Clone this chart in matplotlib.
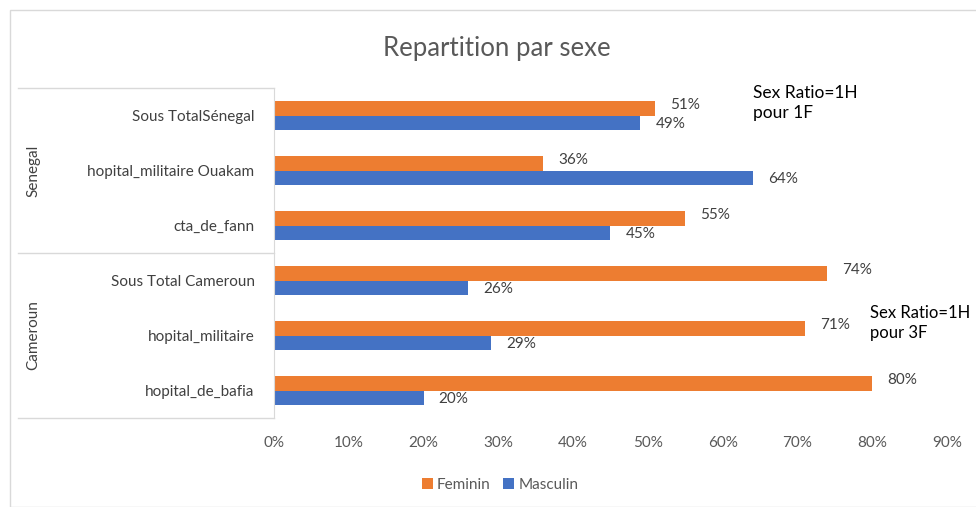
import matplotlib
matplotlib.use("Agg")
import matplotlib.pyplot as plt
import numpy as np
from matplotlib.lines import Line2D
from matplotlib.patches import Rectangle

plt.rcParams["font.family"] = ["Lato", "DejaVu Sans"]

# data, top to bottom as shown
categories = ["Sous TotalSénegal", "hopital_militaire Ouakam", "cta_de_fann",
              "Sous Total Cameroun", "hopital_militaire", "hopital_de_bafia"]
groups = ["Senegal", "Cameroun"]
group_sizes = [3, 3]
feminin = [0.51, 0.36, 0.55, 0.74, 0.71, 0.80]
masculin = [0.49, 0.64, 0.45, 0.26, 0.29, 0.20]
xticks = [0, 0.1, 0.2, 0.3, 0.4, 0.5, 0.6, 0.7, 0.8, 0.9]

ORANGE = "#ED7D31"
BLUE = "#4472C4"
GRAY = "#595959"
DARK = "#404040"
LINE = "#D9D9D9"

fig = plt.figure(figsize=(9.76, 5.07), dpi=100)
ax = fig.add_axes([0.2807, 0.1755, 0.6895, 0.6509])

n = len(categories)
y = np.arange(n)[::-1]
h = 0.27
ax.barh(y + h / 2, feminin, height=h, color=ORANGE, label="Feminin")
ax.barh(y - h / 2, masculin, height=h, color=BLUE, label="Masculin")

for yi, v in zip(y, feminin):
    ax.annotate(f"{v:.0%}", (v, yi + h / 2), xytext=(11, 2), textcoords="offset points",
                va="center", ha="left", fontsize=11, color=DARK)
for yi, v in zip(y, masculin):
    ax.annotate(f"{v:.0%}", (v, yi - h / 2), xytext=(11, -1), textcoords="offset points",
                va="center", ha="left", fontsize=11, color=DARK)

ax.set_xlim(0, 0.9)
ax.set_ylim(-0.5, n - 0.5)
ax.set_xticks(xticks)
ax.set_xticklabels([f"{t:.0%}" for t in xticks], fontsize=11, color=GRAY)
ax.set_yticks(y)
ax.set_yticklabels(categories, fontsize=11, color=DARK)
ax.tick_params(length=0, pad=13)
ax.tick_params(axis="y", pad=14)
for s in ["top", "right", "bottom"]:
    ax.spines[s].set_visible(False)
ax.spines["left"].set_color(LINE)

# multi-level category axis: group separators and labels
trans = ax.get_yaxis_transform()
x_left = -0.380
start = n - 0.5
ax.add_line(Line2D([x_left, 0], [start, start], transform=trans, color=LINE,
                   lw=1, clip_on=False))
for g, size in zip(groups, group_sizes):
    end = start - size
    ax.add_line(Line2D([x_left, 0], [end, end], transform=trans, color=LINE,
                       lw=1, clip_on=False))
    ax.text(-0.358, (start + end) / 2, g, transform=trans, rotation=90,
            ha="center", va="center", fontsize=11, color=DARK)
    start = end

# annotations
ax.text(0.640, 5.22, "Sex Ratio=1H\npour 1F", fontsize=12.5, color="black",
        va="center", ha="left", linespacing=1.3)
ax.text(0.797, 1.22, "Sex Ratio=1H\npour 3F", fontsize=12, color="black",
        va="center", ha="left", linespacing=1.3, clip_on=False)

fig.text(0.509, 0.905, "Repartition par sexe", ha="center", va="center",
         fontsize=18.5, color=GRAY)

ax.legend(loc="center", bbox_to_anchor=(0.336, -0.203), ncol=2, frameon=False,
          fontsize=11, handlelength=0.7, handleheight=0.7, columnspacing=0.8,
          handletextpad=0.3, labelcolor=GRAY)

fig.patches.append(Rectangle((0.01, 0.0), 1.0, 0.98, transform=fig.transFigure,
                             fill=False, edgecolor=LINE, lw=1))

fig.savefig("out.png", dpi=100)
